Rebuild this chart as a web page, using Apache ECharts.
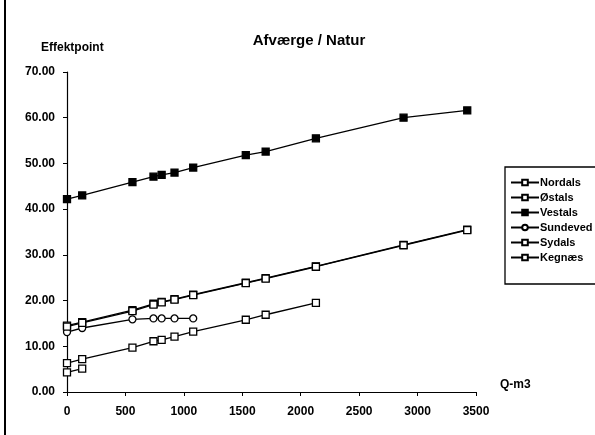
<!DOCTYPE html>
<html>
<head>
<meta charset="utf-8">
<script src="https://cdn.jsdelivr.net/npm/echarts@6/dist/echarts.min.js"></script>
<style>
  html, body { margin: 0; padding: 0; background: #fff; }
  #chart { width: 595px; height: 435px; }
</style>
</head>
<body>
<div id="chart"></div>
<script>
// Q-m3 values shared by the series (each series uses the first n of them)
var flow = [0, 130, 560, 740, 810, 920, 1080, 1530, 1700, 2130, 2880, 3425]

var nordals = [14.5, 15.3, 17.9, 19.3, 19.7, 20.3, 21.3, 23.9, 24.9, 27.5, 32.2, 35.5]
var oestals = [6.3, 7.2, 9.7, 11.1, 11.4, 12.1, 13.2, 15.8, 16.9, 19.5]
var vestals = [42.2, 43.0, 45.9, 47.1, 47.5, 48.0, 49.1, 51.8, 52.6, 55.5, 60.0, 61.6]
var sundeved = [13.1, 14.0, 15.9, 16.1, 16.1, 16.1, 16.1]
var sydals = [14.3, 15.1, 17.7, 19.1, 19.6, 20.2, 21.2, 23.8, 24.8, 27.4, 32.1, 35.4]
var kegnaes = [4.3, 5.1]

var yTicks = [0, 10, 20, 30, 40, 50, 60, 70]
var xTicks = [0, 500, 1000, 1500, 2000, 2500, 3000, 3500]

var font = 'Liberation Sans, Arial, sans-serif'

function pairs (vals) {
  return vals.map(function (v, i) { return [flow[i], v] })
}

function makeSeries (name, vals, symbol, fill) {
  return {
    name: name,
    type: 'line',
    data: pairs(vals),
    symbol: symbol,
    symbolSize: 7,
    showSymbol: true,
    lineStyle: { color: '#000', width: 1.3 },
    itemStyle: { color: fill, borderColor: '#000', borderWidth: 1.3 },
    animation: false
  }
}

var chart = echarts.init(document.getElementById('chart'))
chart.setOption({
  backgroundColor: '#fff',
  title: {
    text: 'Afværge / Natur',
    left: 304,
    top: 28,
    textAlign: 'center',
    textStyle: { fontFamily: font, fontSize: 15, fontWeight: 'bold', color: '#000' }
  },
  grid: { left: 67, right: 119, top: 72, bottom: 43 },
  legend: {
    orient: 'vertical',
    left: 505,
    top: 172,
    itemGap: 4,
    itemWidth: 28,
    itemHeight: 7,
    textStyle: { fontFamily: font, fontSize: 11, fontWeight: 'bold', color: '#000', padding: [0, 0, 0, -4] },
    data: ['Nordals', 'Østals', 'Vestals', 'Sundeved', 'Sydals', 'Kegnæs']
  },
  xAxis: {
    type: 'value',
    min: xTicks[0],
    max: xTicks[xTicks.length - 1],
    interval: 500,
    splitLine: { show: false },
    axisLine: { lineStyle: { color: '#000', width: 1.2 } },
    axisTick: { length: 4, lineStyle: { color: '#000' } },
    axisLabel: {
      fontFamily: font, fontSize: 12, fontWeight: 'bold', color: '#000', margin: 14,
      formatter: function (v) { return String(v) }
    }
  },
  yAxis: {
    type: 'value',
    min: yTicks[0],
    max: yTicks[yTicks.length - 1],
    interval: 10,
    splitLine: { show: false },
    axisLine: { show: true, lineStyle: { color: '#000', width: 1.2 } },
    axisTick: { show: true, length: 4, lineStyle: { color: '#000' } },
    axisLabel: {
      fontFamily: font, fontSize: 12, fontWeight: 'bold', color: '#000', margin: 12,
      formatter: function (v) { return v.toFixed(2) }
    }
  },
  graphic: [
    { type: 'line', shape: { x1: 5, y1: 0, x2: 5, y2: 435 }, style: { stroke: '#000', lineWidth: 2 } },
    { type: 'text', left: 41, top: 42, style: { text: 'Effektpoint', fontFamily: font, fontSize: 12, fontWeight: 'bold', fill: '#000' } },
    { type: 'text', left: 500, top: 379, style: { text: 'Q-m3', fontFamily: font, fontSize: 12, fontWeight: 'bold', fill: '#000' } },
    { type: 'rect', shape: { x: 505, y: 167, width: 100, height: 117 }, style: { fill: 'none', stroke: '#000', lineWidth: 1.3 } }
  ],
  series: [
    makeSeries('Nordals', nordals, 'rect', '#fff'),
    makeSeries('Østals', oestals, 'rect', '#fff'),
    makeSeries('Vestals', vestals, 'rect', '#000'),
    makeSeries('Sundeved', sundeved, 'circle', '#fff'),
    makeSeries('Sydals', sydals, 'rect', '#fff'),
    makeSeries('Kegnæs', kegnaes, 'rect', '#fff')
  ]
})
</script>
</body>
</html>
